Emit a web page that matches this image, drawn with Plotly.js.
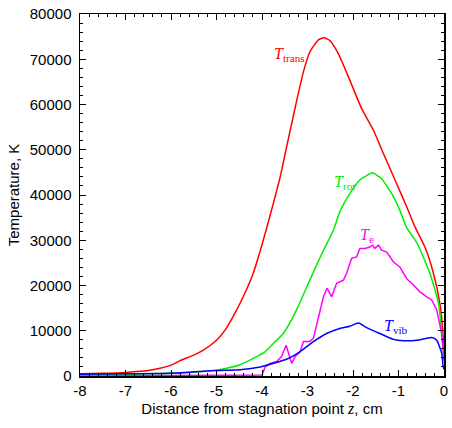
<!DOCTYPE html>
<html><head><meta charset="utf-8">
<script src="https://cdn.plot.ly/plotly-3.0.1.min.js"></script>
<style>html,body{margin:0;padding:0;background:#fff}#chart{width:452px;height:428px}</style>
</head><body><div id="chart"></div>
<script>
const transX = [-8,-7.5,-7,-6.5,-6.24,-6,-5.8,-5.5,-5.29,-5.0,-4.8,-4.6,-4.4,-4.2,-4.0,-3.8,-3.6,-3.46,-3.27,-3.09,-2.95,-2.76,-2.64,-2.51,-2.32,-2.1,-1.81,-1.55,-1.33,-1.04,-0.82,-0.64,-0.42,-0.24,-0.09,-0.02,0];
const transY = [500,600,800,1200,1700,2400,3400,4600,5700,7900,10300,13800,17800,22500,29000,36300,44000,50600,59400,67200,71600,74300,74750,74150,71200,66100,59100,54300,49100,42500,37400,33000,28500,23000,16000,9000,3500];

const rotX = [-8,-7,-6,-5.36,-5.0,-4.78,-4.48,-4.19,-3.95,-3.75,-3.53,-3.24,-2.95,-2.65,-2.43,-2.29,-2.07,-1.85,-1.7,-1.57,-1.37,-1.11,-0.97,-0.82,-0.6,-0.31,-0.12,-0.05,0];
const rotY = [300,400,600,950,1300,1700,2500,3900,5200,7200,9400,14600,21200,27800,32200,36300,40300,43300,44300,44900,43600,39600,36600,32800,29500,22700,16000,9400,3500];

const eX = [-8,-4.0,-3.93,-3.82,-3.68,-3.57,-3.47,-3.40,-3.35,-3.27,-3.16,-3.09,-2.95,-2.87,-2.76,-2.65,-2.57,-2.47,-2.36,-2.21,-2.14,-2.03,-1.92,-1.85,-1.74,-1.63,-1.57,-1.52,-1.44,-1.37,-1.26,-1.11,-0.97,-0.82,-0.67,-0.53,-0.38,-0.27,-0.16,-0.09,-0.05,0];
const eY = [0,200,2000,2800,3200,4300,6800,4300,2800,4300,5400,7600,7600,8300,13100,17500,19400,17500,20500,21200,22700,26000,26300,28200,28200,28500,28900,28200,28900,27800,27400,25200,24100,21500,20100,18600,17500,16800,14600,11600,9400,3500];

const vibX = [-8,-7,-6,-5,-4.48,-4.04,-3.75,-3.46,-3.16,-2.87,-2.58,-2.29,-2.07,-1.88,-1.7,-1.41,-1.11,-0.89,-0.6,-0.27,-0.16,-0.05,-0.02,0];
const vibY = [400,500,600,1200,1400,2000,2800,3700,5400,7600,9400,10500,11000,11700,10700,9400,8100,7800,7900,8500,7900,5000,2200,1500];

const yTicks = [0,10000,20000,30000,40000,50000,60000,70000,80000];
const xTicks = [-8,-7,-6,-5,-4,-3,-2,-1,0];

const mk = (x,y,c,sm)=>({x:x,y:y,type:'scatter',mode:'lines',
  line:sm?{color:c,width:1.5,shape:'spline',smoothing:0.5}:{color:c,width:1.5},hoverinfo:'skip',showlegend:false});
const data = [
  mk(transX,transY,'#ff0000',true),
  mk(rotX,rotY,'#00ee00',true),
  mk(eX,eY,'#ff00ff',false),
  mk(vibX,vibY,'#0000ff',true)
];

const serif = 'Liberation Serif, Times New Roman, serif';
const ann = (x,y,txt,c)=>({x:x,y:y,xref:'x',yref:'y',xanchor:'left',yanchor:'middle',showarrow:false,
  text:'<i>T</i><sub>'+txt+'</sub>',font:{family:serif,size:16,color:c}});

const sans = 'Liberation Sans, Arial, sans-serif';
const axBase = {showline:true,linecolor:'#000',linewidth:1.5,mirror:'ticks',ticks:'inside',ticklen:6,tickwidth:1,tickcolor:'#000',
  showgrid:false,zeroline:false,tickfont:{family:sans,size:15,color:'#000'}};

const layout = {
  width:452,height:428,
  margin:{l:80,r:8,t:14,b:52},
  paper_bgcolor:'#fff',plot_bgcolor:'#fff',
  xaxis:Object.assign({},axBase,{range:[-8,0],tickvals:xTicks,ticktext:xTicks.map(String),
    minor:{ticks:'inside',dtick:0.2,ticklen:3,tickcolor:'#000'},
    title:{text:'Distance from stagnation point <i><span style="font-family:Liberation Serif,serif;font-size:16px">z</span></i>, cm',font:{family:sans,size:15,color:'#000'},standoff:6}}),
  yaxis:Object.assign({},axBase,{range:[0,80000],tickvals:yTicks,ticktext:yTicks.map(String),ticklabelstandoff:4,
    minor:{ticks:'inside',dtick:2000,ticklen:3,tickcolor:'#000'},
    title:{text:'Temperature, K',font:{family:sans,size:15,color:'#000'},standoff:6}}),
  annotations:[
    ann(-3.78,71000,'trans','#ff0000'),
    ann(-2.47,42800,'rot','#00ee00'),
    ann(-1.90,31100,'e','#ff00ff'),
    ann(-1.37,11000,'vib','#0000ff')
  ]
};
Plotly.newPlot('chart',data,layout,{staticPlot:true,displayModeBar:false});
</script></body></html>
